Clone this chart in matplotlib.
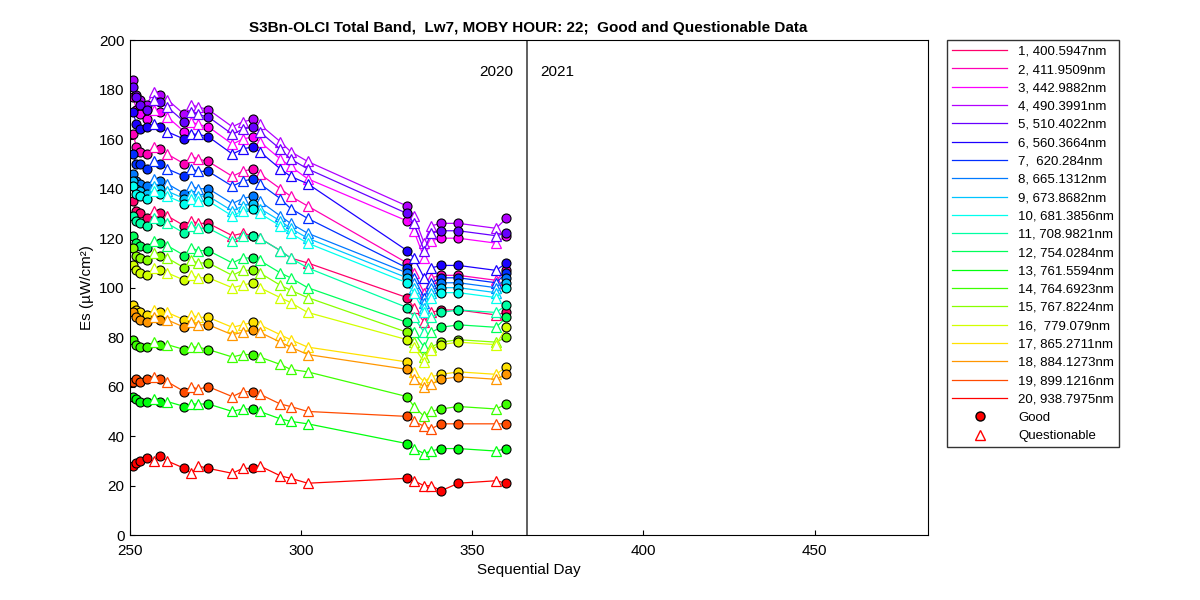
import numpy as np
import matplotlib.pyplot as plt
import colorsys

days = [251, 252, 253, 255, 257, 259, 261, 266, 268, 270, 273, 280, 283,
        286, 288, 294, 297, 302, 331, 333, 336, 338, 341, 346, 357, 360]
questionable_days = [257, 261, 268, 270, 280, 283, 288, 294, 297, 302, 333, 336, 338, 357]

band_labels = ['1, 400.5947nm', '2, 411.9509nm', '3, 442.9882nm', '4, 490.3991nm',
               '5, 510.4022nm', '6, 560.3664nm', '7,  620.284nm', '8, 665.1312nm',
               '9, 673.8682nm', '10, 681.3856nm', '11, 708.9821nm', '12, 754.0284nm',
               '13, 761.5594nm', '14, 764.6923nm', '15, 767.8224nm', '16,  779.079nm',
               '17, 865.2711nm', '18, 884.1273nm', '19, 899.1216nm', '20, 938.7975nm']

es = [
    [135, 131, 130, 128, 131, 130, 129, 125, 127, 126, 126, 121, 122, 121, 120, 115, 112, 110, 96, 92, 86, 90, 91, 91, 89, 90],
    [162, 157, 155, 154, 157, 156, 154, 150, 153, 152, 151, 145, 147, 148, 146, 140, 137, 133, 110, 106, 98, 104, 105, 105, 103, 107],
    [177, 172, 170, 168, 172, 171, 169, 163, 167, 166, 165, 158, 160, 161, 159, 152, 149, 144, 127, 123, 112, 119, 120, 120, 118, 121],
    [184, 178, 176, 174, 179, 178, 176, 170, 174, 173, 172, 165, 167, 168, 166, 159, 155, 151, 133, 129, 118, 125, 126, 126, 124, 128],
    [181, 177, 174, 172, 176, 175, 173, 167, 171, 170, 169, 162, 164, 165, 163, 156, 152, 148, 130, 126, 115, 122, 123, 123, 121, 122],
    [171, 166, 164, 165, 166, 165, 163, 160, 162, 162, 161, 154, 156, 157, 155, 148, 145, 142, 115, 112, 104, 108, 109, 109, 107, 110],
    [154, 150, 150, 148, 151, 150, 148, 145, 148, 147, 147, 141, 143, 144, 142, 136, 132, 128, 108, 104, 96, 102, 104, 104, 102, 106],
    [146, 143, 142, 141, 144, 143, 142, 138, 141, 140, 140, 134, 136, 137, 135, 129, 126, 122, 106, 102, 94, 100, 102, 102, 100, 104],
    [143, 140, 139, 138, 141, 140, 139, 136, 138, 137, 137, 131, 133, 134, 132, 127, 124, 120, 104, 100, 92, 98, 100, 100, 98, 102],
    [141, 138, 137, 136, 139, 138, 137, 134, 136, 135, 135, 129, 131, 132, 130, 125, 122, 118, 102, 98, 90, 96, 98, 98, 96, 100],
    [129, 127, 126, 125, 128, 127, 126, 122, 125, 124, 124, 119, 121, 121, 120, 115, 112, 108, 92, 88, 82, 88, 90, 91, 90, 93],
    [121, 118, 117, 116, 119, 118, 117, 113, 116, 115, 115, 110, 112, 112, 111, 106, 104, 100, 86, 82, 76, 82, 84, 85, 84, 88],
    [56, 55, 54, 54, 55, 54, 54, 52, 53, 53, 53, 50, 51, 51, 50, 47, 46, 45, 37, 35, 33, 34, 35, 35, 34, 35],
    [79, 77, 76, 76, 78, 77, 77, 75, 76, 76, 75, 72, 73, 73, 72, 69, 67, 66, 56, 52, 48, 50, 51, 52, 51, 53],
    [116, 113, 112, 111, 114, 113, 112, 108, 111, 110, 110, 105, 107, 107, 106, 101, 99, 96, 82, 78, 72, 76, 78, 79, 78, 80],
    [109, 107, 106, 105, 108, 107, 106, 103, 105, 104, 104, 100, 101, 102, 100, 96, 94, 90, 79, 76, 70, 75, 77, 78, 77, 84],
    [93, 91, 90, 89, 91, 90, 90, 87, 89, 88, 88, 84, 85, 86, 85, 81, 79, 76, 70, 66, 62, 64, 65, 66, 65, 68],
    [90, 88, 87, 86, 88, 87, 87, 84, 86, 85, 85, 81, 82, 83, 82, 78, 76, 73, 67, 63, 60, 61, 63, 64, 63, 65],
    [62, 63, 62, 63, 64, 63, 62, 58, 60, 59, 60, 56, 58, 58, 57, 53, 52, 50, 48, 46, 44, 43, 45, 45, 45, 45],
    [28, 29, 30, 31, 30, 32, 30, 27, 25, 28, 27, 25, 27, 27, 28, 24, 23, 21, 23, 22, 20, 20, 18, 21, 22, 21],
]

plt.rcParams['font.family'] = 'Liberation Sans'
fig = plt.figure(figsize=(12, 6), dpi=100)
ax = fig.add_axes([0.108, 0.108, 0.665, 0.825])

x = np.array(days)
q = np.isin(x, questionable_days)
handles = []
for i, vals in enumerate(es):
    col = colorsys.hsv_to_rgb(0.93 * (1 - i / 19), 1, 1)
    y = np.array(vals)
    h, = ax.plot(x, y, '-', color=col, lw=0.9, label=band_labels[i])
    handles.append(h)
    ax.plot(x[~q], y[~q], 'o', ms=6.5, mfc=col, mec='black', mew=0.8)
    ax.plot(x[q], y[q], '^', ms=6.5, mfc='white', mec=col, mew=0.9)

g, = ax.plot([], [], 'o', ms=6.5, mfc='red', mec='black', label='Good')
qh, = ax.plot([], [], '^', ms=6.5, mfc='white', mec='red', label='Questionable')
handles += [g, qh]

ax.axvline(366, color='#444444', lw=1.2)
ax.text(362, 187, '2020', ha='right', va='center', fontsize=11)
ax.text(370, 187, '2021', ha='left', va='center', fontsize=11)

ax.set_xlim(250, 483)
ax.set_ylim(0, 200)
ax.set_xticks([250, 300, 350, 400, 450])
ax.set_yticks(range(0, 201, 20))
ax.tick_params(direction='in', labelsize=11, top=False, right=False)
ax.tick_params(axis='x', pad=6)
ax.set_xlabel('Sequential Day', fontsize=11)
ax.set_ylabel('Es (\u00b5W/cm\u00b2)', fontsize=11)
ax.set_title('S3Bn-OLCI Total Band,  Lw7, MOBY HOUR: 22;  Good and Questionable Data',
             fontsize=11, fontweight='bold')

fig.legend(handles=handles, loc='upper left', bbox_to_anchor=(0.789, 0.933),
           fontsize=9.5, frameon=True, fancybox=False, edgecolor='black',
           handlelength=4.2, labelspacing=0.46, borderaxespad=0)

fig.savefig('out.png', dpi=100)
